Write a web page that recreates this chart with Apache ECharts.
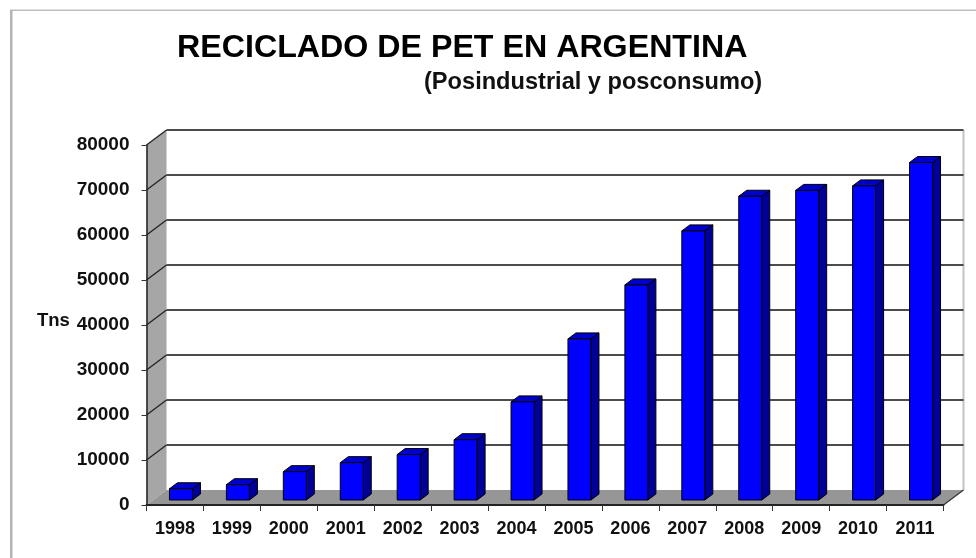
<!DOCTYPE html>
<html><head><meta charset="utf-8">
<style>html,body{margin:0;padding:0;background:#fff}#c{width:976px;height:558px;filter:blur(0.5px)}</style>
<script src="https://cdn.jsdelivr.net/npm/echarts@6/dist/echarts.min.js"></script>
</head><body><div id="c"></div>
<script>
const years = ['1998','1999','2000','2001','2002','2003','2004','2005','2006','2007','2008','2009','2010','2011'];
const tons = [2500,3400,6300,8300,10100,13400,21800,35800,47800,59800,67500,68800,69800,75000];
const yTicks = [0,10000,20000,30000,40000,50000,60000,70000,80000];
const titleText = 'RECICLADO DE PET EN ARGENTINA';
const subtitleText = '(Posindustrial y posconsumo)';
const yName = 'Tns';

const FONT = '"Liberation Sans", Arial, sans-serif';
const DX = 20, DY = -15, BW = 23, BDX = 8, BDY = -6, BOFFX = 6, BOFFY = -5;
const line = (x1,y1,x2,y2,color,w) => ({type:'line',shape:{x1,y1,x2,y2},style:{stroke:color,lineWidth:w}});
const poly = (points,fill,stroke) => ({type:'polygon',shape:{points},style:{fill,stroke:stroke||null,lineWidth:stroke?1:0}});

function renderWalls(params, api){
  const cs = params.coordSys;
  const L = cs.x, R = cs.x + cs.width;
  const v = api.value(0);
  const y = api.coord([0, v])[1];
  const kids = [];
  if (v === 0){
    kids.push(poly([[L,y],[L,cs.y],[L+DX,cs.y+DY],[L+DX,y+DY]],'#a6a6a6'));
    kids.push(poly([[L,y],[R,y],[R+DX,y+DY],[L+DX,y+DY]],'#969696'));
    kids.push(line(R+DX,cs.y+DY,R+DX,y+DY,'#c4c4c4',2));
    kids.push(line(R,y,R+DX,y+DY,'#333',1.2));
  } else {
    kids.push(line(L,y,L+DX,y+DY,'#222',1.3));
    kids.push(line(L+DX,y+DY,R+DX,y+DY,'#111',1.3));
  }
  return {type:'group',children:kids};
}
function renderBar(params, api){
  const p = api.coord([api.value(0), api.value(1)]);
  const b = api.coord([api.value(0), 0]);
  const x0 = p[0] + BOFFX - BW/2, x1 = x0 + BW;
  const yt = p[1] + BOFFY, yb = b[1] + BOFFY;
  return {type:'group',children:[
    poly([[x1,yt],[x1+BDX,yt+BDY],[x1+BDX,yb+BDY],[x1,yb]],'#000099','#000'),
    poly([[x0,yt],[x1,yt],[x1+BDX,yt+BDY],[x0+BDX,yt+BDY]],'#0000cc','#000'),
    poly([[x0,yt],[x1,yt],[x1,yb],[x0,yb]],'#0000ff','#000')
  ]};
}
const chart = echarts.init(document.getElementById('c'),null,{renderer:'canvas'});
chart.setOption({
  animation:false,
  backgroundColor:'#fff',
  graphic:[
    {type:'rect',shape:{x:10,y:9.5,width:966,height:1.5},style:{fill:'#bdbdbd'},silent:true},
    {type:'rect',shape:{x:10,y:10,width:2.5,height:548},style:{fill:'#b4b4b4'},silent:true},
    {type:'text',left:177,top:32,style:{text:titleText,font:'bold 32.2px '+FONT,fill:'#000'}},
    {type:'text',left:424,top:70,style:{text:subtitleText,font:'bold 23.6px '+FONT,fill:'#111'}},
    {type:'text',left:37,top:311,style:{text:yName,font:'bold 18.5px '+FONT,fill:'#111'}}
  ],
  grid:{left:146.5,right:32.5,top:145,bottom:53,containLabel:false},
  xAxis:{type:'category',data:years,boundaryGap:true,z:5,
    axisLine:{lineStyle:{color:'#222',width:1.8}},
    axisTick:{show:true,alignWithLabel:false,length:6,lineStyle:{color:'#333',width:1}},
    axisLabel:{color:'#111',fontFamily:FONT,fontWeight:'bold',fontSize:18,margin:15,interval:0},
    splitLine:{show:false}},
  yAxis:{type:'value',min:0,max:80000,interval:10000,z:5,
    axisLine:{show:true,lineStyle:{color:'#222',width:1.5}},
    axisTick:{show:true,length:5,lineStyle:{color:'#333',width:1}},
    axisLabel:{color:'#111',fontFamily:FONT,fontWeight:'bold',fontSize:19,margin:17,formatter:v=>String(v)},
    splitLine:{show:false}},
  series:[
    {type:'custom',name:'walls',coordinateSystem:'cartesian2d',data:yTicks.map(v=>[v]),encode:{x:-1,y:0},renderItem:renderWalls,clip:false,z:1,silent:true},
    {type:'custom',name:'Tns',coordinateSystem:'cartesian2d',data:tons.map((v,i)=>[i,v]),encode:{x:0,y:1},renderItem:renderBar,clip:false,z:3,silent:true}
  ]
});
</script></body></html>
